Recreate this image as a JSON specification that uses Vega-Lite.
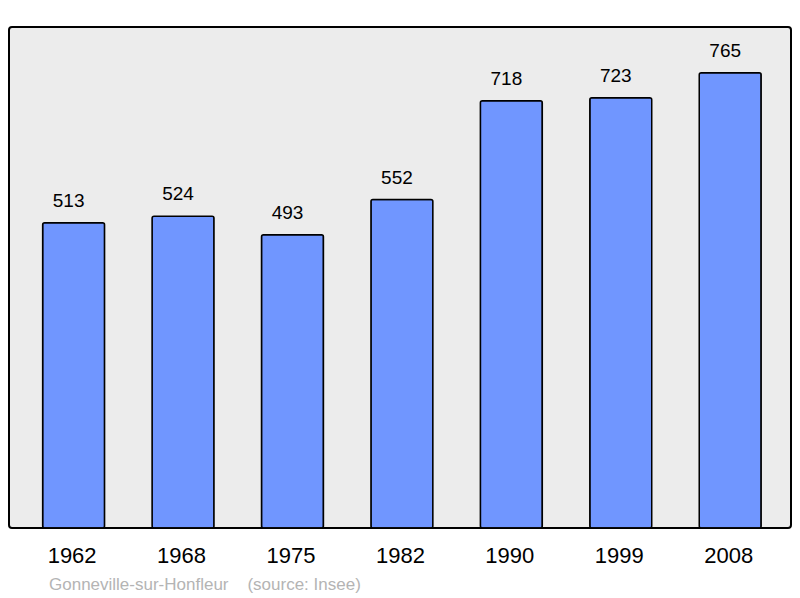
{
  "$schema": "https://vega.github.io/schema/vega-lite/v6.json",
  "width": 782,
  "height": 501,
  "autosize": "none",
  "padding": {"left": 9, "top": 27, "right": 9, "bottom": 70},
  "background": "white",
  "data": {
    "values": [
      {"year": "1962", "pop": 513},
      {"year": "1968", "pop": 524},
      {"year": "1975", "pop": 493},
      {"year": "1982", "pop": 552},
      {"year": "1990", "pop": 718},
      {"year": "1999", "pop": 723},
      {"year": "2008", "pop": 765}
    ]
  },
  "title": {
    "text": "Gonneville-sur-Honfleur\u00a0\u00a0\u00a0\u00a0(source: Insee)",
    "orient": "bottom",
    "anchor": "start",
    "dx": 40,
    "offset": 11,
    "fontSize": 17,
    "fontWeight": "normal",
    "font": "Liberation Sans",
    "color": "#b4b4b4"
  },
  "encoding": {
    "x": {
      "field": "year",
      "type": "nominal",
      "sort": null,
      "title": null,
      "scale": {"paddingInner": 0.434, "paddingOuter": 0.29, "align": 0.53},
      "axis": {
        "domain": false,
        "ticks": false,
        "labelAngle": 0,
        "labelFontSize": 22,
        "labelFont": "Liberation Sans",
        "labelColor": "black",
        "labelPadding": 17,
        "labelOffset": -1.5
      }
    },
    "y": {
      "field": "pop",
      "type": "quantitative",
      "scale": {"domain": [0, 842], "nice": false, "zero": true},
      "axis": null
    }
  },
  "layer": [
    {
      "mark": {
        "type": "bar",
        "color": "#7096ff",
        "stroke": "black",
        "strokeWidth": 1.5,
        "cornerRadius": 2
      }
    },
    {
      "mark": {
        "type": "text",
        "baseline": "middle",
        "dx": -5,
        "dy": -22,
        "fontSize": 19,
        "font": "Liberation Sans",
        "color": "black"
      },
      "encoding": {"text": {"field": "pop", "type": "quantitative"}}
    }
  ],
  "config": {
    "view": {
      "fill": "#ececec",
      "stroke": "black",
      "strokeWidth": 2,
      "cornerRadius": 3
    }
  }
}
